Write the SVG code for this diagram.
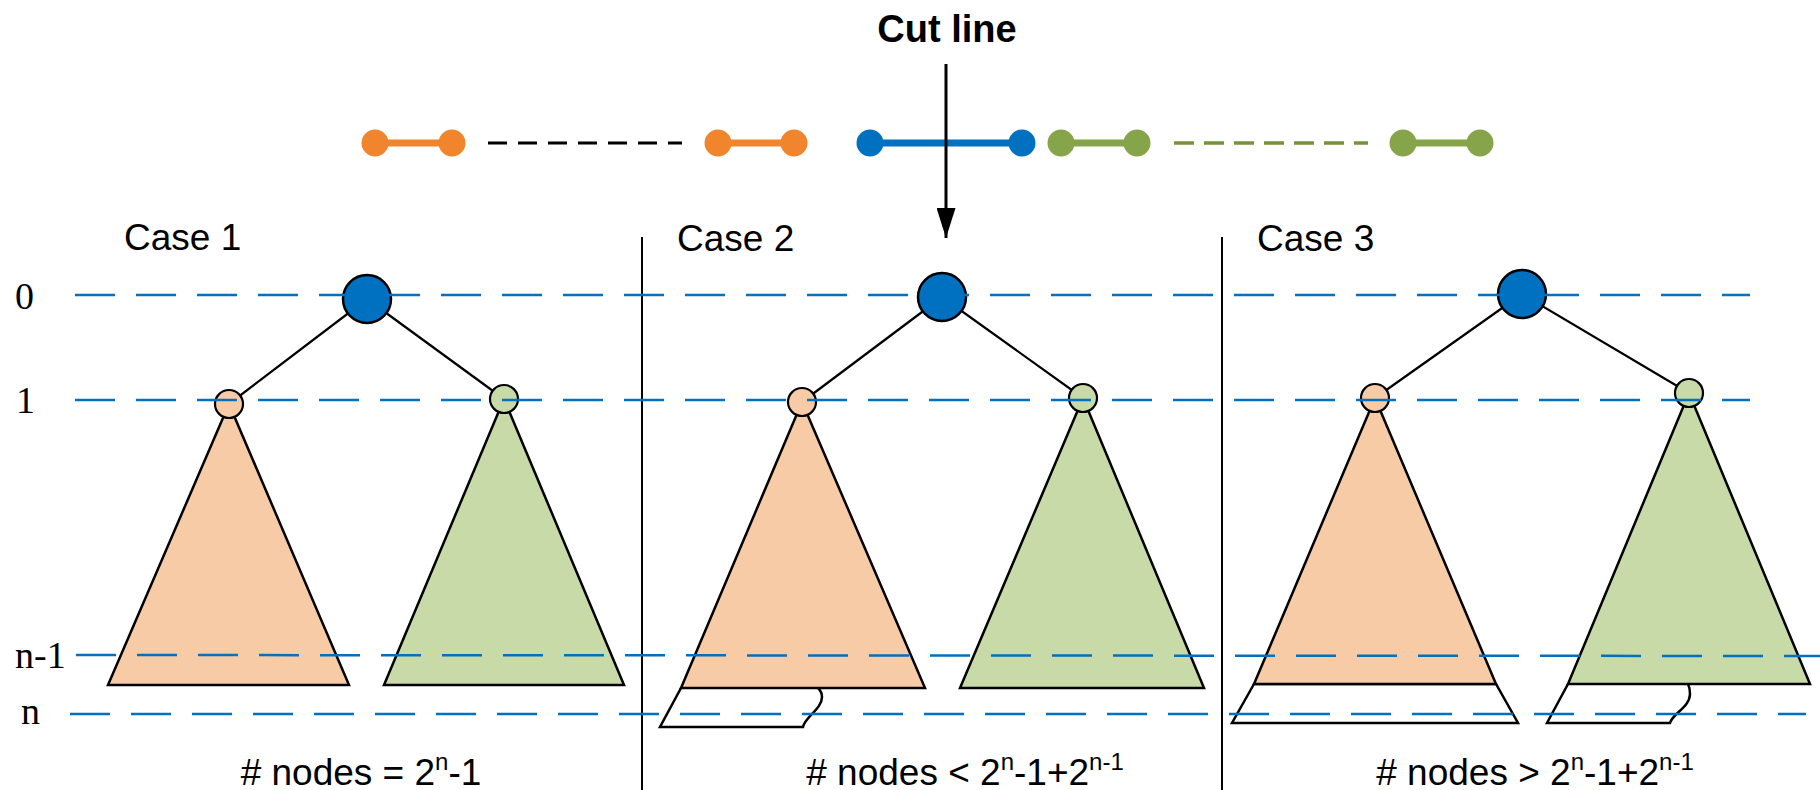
<svg xmlns="http://www.w3.org/2000/svg" width="1820" height="790" viewBox="0 0 1820 790">
<style>
.lbl{font-family:"Liberation Sans",Arial,sans-serif;font-size:37px;fill:#000}
.lvl{font-family:"Liberation Serif","Times New Roman",serif;font-size:38px;fill:#000}
.cut{font-family:"Liberation Sans",Arial,sans-serif;font-size:38px;font-weight:bold;fill:#000}
.lev{stroke:#0070C0;stroke-width:2.5;stroke-dasharray:40 21;fill:none}
.edge{stroke:#000;stroke-width:2.2;fill:none}
.root{fill:#0070C0;stroke:#000;stroke-width:2.5}
.oc{fill:#F8CBA7;stroke:#000;stroke-width:2.2}
.gc{fill:#C9DAA9;stroke:#000;stroke-width:2.2}
.ot{fill:#F8CBA7;stroke:#000;stroke-width:2.5;stroke-linejoin:miter}
.gt{fill:#C9DAA9;stroke:#000;stroke-width:2.5;stroke-linejoin:miter}
.ext{fill:#fff;stroke:#000;stroke-width:2.5}
.sep{stroke:#000;stroke-width:2}
.seg-o{stroke:#F0852D;stroke-width:7;fill:#F0852D}
.seg-b{stroke:#0070C0;stroke-width:7;fill:#0070C0}
.seg-g{stroke:#86A44A;stroke-width:7;fill:#86A44A}
</style>
<defs>
<marker id="arr" markerWidth="30" markerHeight="19" refX="10" refY="5" orient="auto" markerUnits="userSpaceOnUse" viewBox="0 0 10 10" preserveAspectRatio="none">
<path d="M0,0 L10,5 L0,10 Z" fill="#000"/>
</marker>
</defs>
<rect width="1820" height="790" fill="#fff"/>

<!-- top array segments -->
<g id="segments">
<g id="seg-orange-1"><line class="seg-o" x1="375" y1="143" x2="452" y2="143"/><circle class="seg-o" stroke="none" cx="375" cy="143" r="10"/><circle class="seg-o" stroke="none" cx="452" cy="143" r="10"/></g>
<line id="seg-dash-black" x1="488" y1="143" x2="682" y2="143" stroke="#000" stroke-width="3" stroke-dasharray="19 11"/>
<g id="seg-orange-2"><line class="seg-o" x1="718" y1="143" x2="794" y2="143"/><circle class="seg-o" stroke="none" cx="718" cy="143" r="10"/><circle class="seg-o" stroke="none" cx="794" cy="143" r="10"/></g>
<g id="seg-blue"><line class="seg-b" x1="870" y1="143" x2="1022" y2="143"/><circle class="seg-b" stroke="none" cx="870" cy="143" r="10"/><circle class="seg-b" stroke="none" cx="1022" cy="143" r="10"/></g>
<g id="seg-green-1"><line class="seg-g" x1="1061" y1="143" x2="1137" y2="143"/><circle class="seg-g" stroke="none" cx="1061" cy="143" r="10"/><circle class="seg-g" stroke="none" cx="1137" cy="143" r="10"/></g>
<line id="seg-dash-green" x1="1174" y1="143" x2="1368" y2="143" stroke="#76923C" stroke-width="3.5" stroke-dasharray="20 10"/>
<g id="seg-green-2"><line class="seg-g" x1="1403" y1="143" x2="1480" y2="143"/><circle class="seg-g" stroke="none" cx="1403" cy="143" r="10"/><circle class="seg-g" stroke="none" cx="1480" cy="143" r="10"/></g>
</g>

<g id="cutline">
<text class="cut" x="947" y="42" text-anchor="middle">Cut line</text>
</g>

<!-- separators -->
<g id="separators">
<line class="sep" x1="642" y1="237" x2="642" y2="790"/>
<line class="sep" x1="1222" y1="237" x2="1222" y2="790"/>
</g>

<!-- Case 1 -->
<g id="case1">
<text class="lbl" x="124" y="250">Case 1</text>
<g id="c1-edges"><line class="edge" x1="367" y1="299" x2="229" y2="404"/><line class="edge" x1="367" y1="299" x2="504" y2="399"/></g>
<polygon id="c1-ltri" class="ot" points="229,404 108,685 349,685"/>
<polygon id="c1-rtri" class="gt" points="504,399 384,685 624,685"/>
<circle id="c1-root" class="root" cx="367" cy="299" r="24"/>
<circle id="c1-left" class="oc" cx="229" cy="404" r="14"/>
<circle id="c1-right" class="gc" cx="504" cy="399" r="14"/>
<text class="lbl" x="361" y="785" text-anchor="middle"># nodes = 2<tspan dy="-15" font-size="24">n</tspan><tspan dy="15">-1</tspan></text>
</g>

<!-- Case 2 -->
<g id="case2">
<text class="lbl" x="677" y="251">Case 2</text>
<g id="c2-edges"><line class="edge" x1="942" y1="297" x2="802" y2="402"/><line class="edge" x1="942" y1="297" x2="1083" y2="398"/></g>
<path id="c2-ext" class="ext" d="M681,688 L660,727 L803,727 C805,717 822,709 822,697 C822,692 820,690 818,688"/>
<polygon id="c2-ltri" class="ot" points="802,402 681,688 925,688"/>
<polygon id="c2-rtri" class="gt" points="1083,398 960,688 1204,688"/>
<circle id="c2-root" class="root" cx="942" cy="297" r="24"/>
<circle id="c2-left" class="oc" cx="802" cy="402" r="14"/>
<circle id="c2-right" class="gc" cx="1083" cy="398" r="14"/>
<text class="lbl" x="965" y="785" text-anchor="middle"># nodes &lt; 2<tspan dy="-15" font-size="24">n</tspan><tspan dy="15">-1+2</tspan><tspan dy="-15" font-size="24">n-1</tspan></text>
</g>

<!-- Case 3 -->
<g id="case3">
<text class="lbl" x="1257" y="251">Case 3</text>
<g id="c3-edges"><line class="edge" x1="1522" y1="294" x2="1375" y2="398"/><line class="edge" x1="1522" y1="294" x2="1689" y2="393"/></g>
<polygon id="c3-lext" class="ext" points="1254,684 1232,723 1518,723 1496,684"/>
<path id="c3-rext" class="ext" d="M1568,684 L1547,723 L1670,723 C1672,714 1690,707 1690,694 C1690,689 1689,686 1688,684"/>
<polygon id="c3-ltri" class="ot" points="1375,398 1254,684 1496,684"/>
<polygon id="c3-rtri" class="gt" points="1689,393 1568,684 1810,684"/>
<circle id="c3-root" class="root" cx="1522" cy="294" r="24"/>
<circle id="c3-left" class="oc" cx="1375" cy="398" r="14"/>
<circle id="c3-right" class="gc" cx="1689" cy="393" r="14"/>
<text class="lbl" x="1535" y="785" text-anchor="middle"># nodes &gt; 2<tspan dy="-15" font-size="24">n</tspan><tspan dy="15">-1+2</tspan><tspan dy="-15" font-size="24">n-1</tspan></text>
</g>

<!-- level lines and labels -->
<g id="levels">
<line class="lev" x1="75" y1="295" x2="1750" y2="295"/>
<line class="lev" x1="75" y1="400" x2="1750" y2="400"/>
<line class="lev" x1="76" y1="655" x2="1820" y2="656"/>
<line class="lev" x1="70" y1="714" x2="1806" y2="714"/>
<text class="lvl" x="15" y="309">0</text>
<text class="lvl" x="16" y="413">1</text>
<text class="lvl" x="15" y="668">n-1</text>
<text class="lvl" x="21" y="724">n</text>
</g>

<!-- connectors -->
<g id="connectors">
<line x1="946" y1="64" x2="946" y2="238" stroke="#000" stroke-width="3" marker-end="url(#arr)"/>
</g>
</svg>
